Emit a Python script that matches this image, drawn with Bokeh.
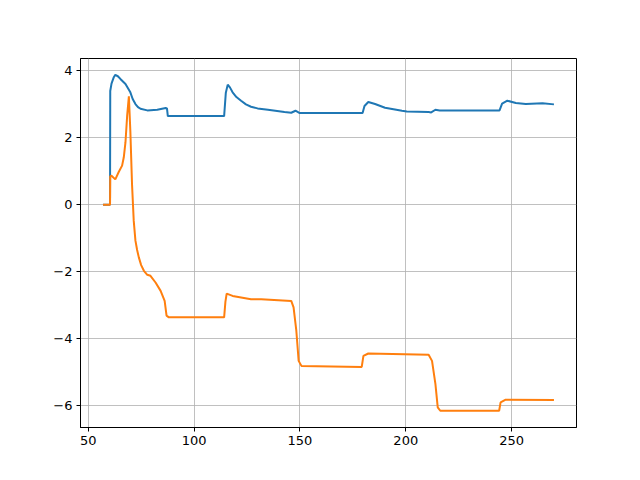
from bokeh.plotting import figure
from bokeh.models import FixedTicker, Range1d
from bokeh.embed import file_html
from bokeh.resources import INLINE

# Series 1 (blue)
blue_x = [57, 60.3, 60.4, 61.0, 62.0, 62.8, 64.0, 65.2, 67.6, 69.9, 71.0, 72.3, 73.5, 74.7, 77.9, 82.6, 86.6, 87.2, 87.6,
          114.2, 115.0, 115.9, 117.0, 118.2, 120.0, 122.2, 124.5, 126.9, 130.0, 134.9, 142.7, 145.9, 147.9, 149.9,
          179.6, 180.5, 182.3, 185.5, 190.2, 198.2, 200.5, 210.8, 212.0, 214.0, 216.0,
          244.3, 245.5, 248.0, 252.0, 256.7, 264.6, 270.0]
blue_y = [0.0, 0.0, 3.4, 3.62, 3.8, 3.88, 3.84, 3.76, 3.61, 3.36, 3.16, 3.01, 2.92, 2.87, 2.82, 2.84, 2.89, 2.88, 2.65,
          2.65, 3.35, 3.59, 3.5, 3.36, 3.22, 3.11, 3.0, 2.93, 2.88, 2.84, 2.77, 2.75, 2.81, 2.74,
          2.74, 2.95, 3.07, 3.01, 2.9, 2.81, 2.79, 2.77, 2.76, 2.84, 2.82,
          2.82, 3.02, 3.11, 3.04, 3.01, 3.03, 3.0]

# Series 2 (orange)
orange_x = [57, 60.3, 60.4, 61.0, 62.8, 64.4, 66.0, 66.8, 67.6, 68.4, 69.2, 69.9, 70.7, 71.5, 72.3,
            73.1, 73.9, 75.0, 76.3, 77.9, 79.4, 81.8, 84.2, 86.1, 87.0, 88.1,
            114.2, 114.8, 115.4, 118.2, 126.9, 131.7, 145.9, 147.0, 148.3, 149.4, 150.7,
            179.2, 180.0, 182.3, 210.8, 212.4, 214.0, 215.1, 216.3,
            244.1, 244.8, 247.2, 270.0]
orange_y = [0.0, 0.0, 0.85, 0.87, 0.76, 0.98, 1.17, 1.42, 1.87, 2.67, 3.24, 2.2, 0.6, -0.48, -1.07,
            -1.35, -1.57, -1.8, -1.97, -2.09, -2.12, -2.32, -2.57, -2.87, -3.31, -3.36,
            -3.36, -2.9, -2.65, -2.72, -2.82, -2.82, -2.87, -3.06, -3.76, -4.66, -4.81,
            -4.84, -4.51, -4.44, -4.48, -4.66, -5.35, -6.05, -6.15,
            -6.15, -5.9, -5.82, -5.83]

x_ticks = [50, 100, 150, 200, 250]
y_ticks = [-6, -4, -2, 0, 2, 4]

p = figure(frame_width=496, frame_height=369, output_backend="svg", toolbar_location=None,
           x_range=Range1d(46.35, 280.65), y_range=Range1d(-6.65, 4.37),
           min_border_left=80, min_border_right=64, min_border_top=58, min_border_bottom=53)
p.background_fill_color = "white"
p.border_fill_color = "white"
p.outline_line_color = "black"
p.outline_line_width = 1
p.outline_line_alpha = 1

p.line(blue_x, blue_y, line_color="#1f77b4", line_width=2)
p.line(orange_x, orange_y, line_color="#ff7f0e", line_width=2)

p.xaxis.ticker = FixedTicker(ticks=x_ticks)
p.yaxis.ticker = FixedTicker(ticks=y_ticks)
for ax in (p.xaxis[0], p.yaxis[0]):
    ax.axis_line_color = "black"
    ax.major_tick_out = 4
    ax.major_tick_in = 0
    ax.minor_tick_out = 0
    ax.minor_tick_in = 0
    ax.major_tick_line_color = "black"
    ax.major_label_text_font = "DejaVu Sans"
    ax.major_label_text_font_size = "13px"
    ax.major_label_text_color = "black"
    ax.major_label_standoff = 4
for g in (p.xgrid[0], p.ygrid[0]):
    g.grid_line_color = "#b0b0b0"
    g.grid_line_width = 0.8

open("out.html", "w").write(file_html(p, INLINE))
